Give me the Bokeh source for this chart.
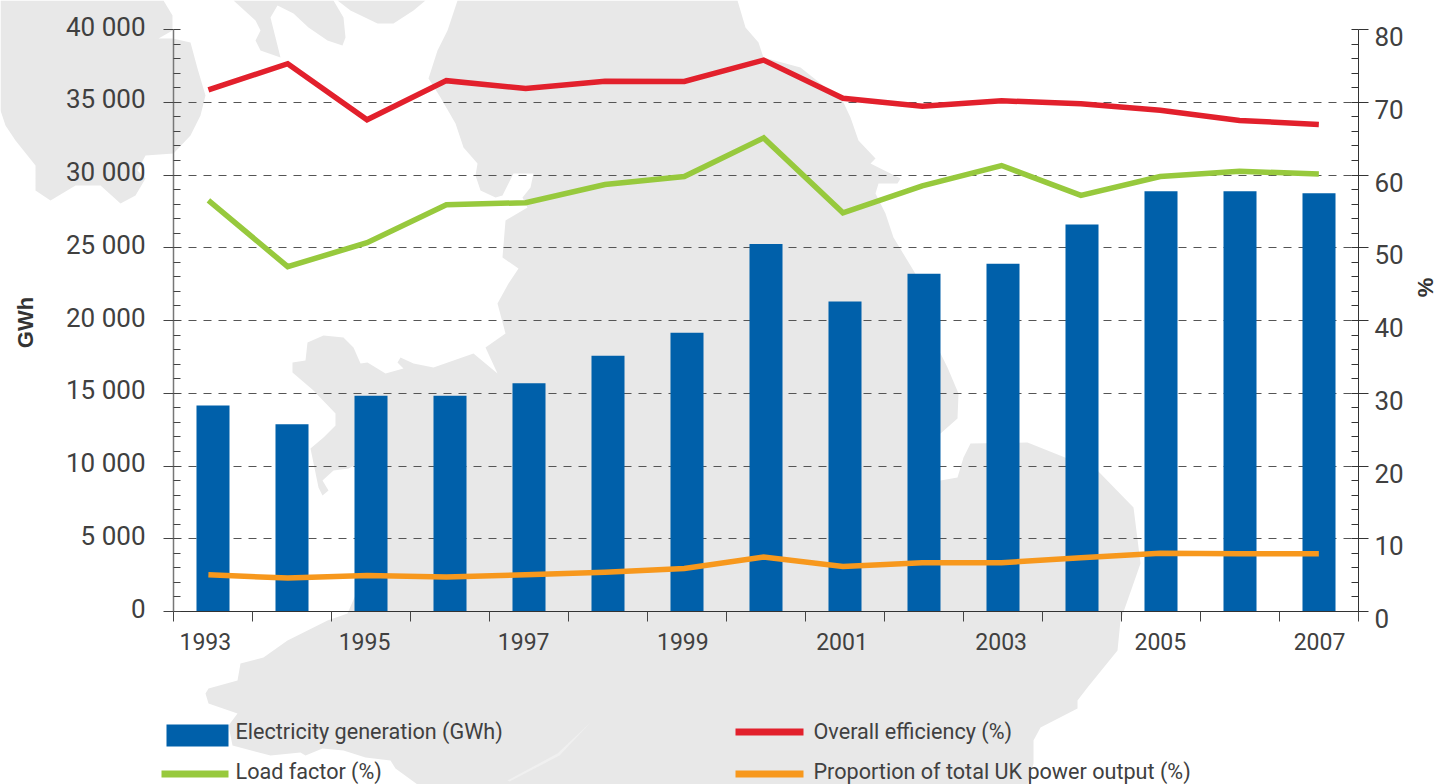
from bokeh.plotting import figure
from bokeh.layouts import column
from bokeh.core.properties import value
from bokeh.models import Range1d, LinearAxis, FixedTicker, ColumnDataSource
from bokeh.embed import file_html
from bokeh.resources import INLINE
import math

years = list(range(1993, 2008))
generation = [14150, 12870, 14830, 14830, 15690, 17580, 19160, 25250, 21300, 23220, 23900, 26590, 28880, 28880, 28740]
efficiency = [71.7, 75.3, 67.6, 72.97, 71.9, 72.9, 72.85, 75.8, 70.55, 69.45, 70.2, 69.8, 68.9, 67.5, 66.95]
load_factor = [56.5, 47.4, 50.7, 55.9, 56.2, 58.7, 59.8, 65.1, 54.8, 58.5, 61.3, 57.2, 59.8, 60.5, 60.15]
uk_share = [5.05, 4.6, 4.95, 4.75, 5.05, 5.4, 5.9, 7.5, 6.2, 6.7, 6.7, 7.4, 8.0, 7.95, 7.95]

left_ticks = [0, 5000, 10000, 15000, 20000, 25000, 30000, 35000, 40000]
left_labels = ["0", "5 000", "10 000", "15 000", "20 000", "25 000", "30 000", "35 000", "40 000"]
right_ticks = [0, 10, 20, 30, 40, 50, 60, 70, 80]
year_ticks = [1993, 1995, 1997, 1999, 2001, 2003, 2005, 2007]

FONT = "Roboto"
TEXT = "#404040"
BLUE, RED, GREEN, ORANGE = "#0060aa", "#e2202c", "#97c93d", "#f7981d"
LAND = "#e8e8e8"

# Background map outline, page pixels
map_ireland = [(0,0),(163,0),(172,15),(172,30),(158,38),(172,38),(190,42),(197,68),(205,95),(200,115),(190,135),
               (173,153),(145,155),(137,170),(145,178),(135,195),(120,203),(100,185),(75,185),(50,200),(35,190),
               (35,165),(15,140),(5,125),(0,110)]
map_galloway = [(233,0),(255,20),(260,30),(255,40),(260,50),(280,57),(275,37),(270,17),(277,5),(293,13),(308,27),
                (327,40),(342,45),(345,37),(343,17),(333,0)]
map_scotland = [(337,0),(350,10),(377,23),(393,23),(413,10),(425,0)]
map_main = [(457,0),(447,30),(437,50),(428,78),(440,97),(455,123),(463,147),(477,163),(475,175),(480,190),(495,197),
            (502,195),(513,173),(533,173),(530,187),(522,197),(527,207),(505,220),(502,257),(518,268),(508,283),
            (497,303),(505,333),(485,347),(497,373),(473,353),(433,367),(413,363),(400,357),(397,362),(403,368),
            (385,373),(367,362),(360,363),(353,347),(343,337),(323,335),(307,342),(305,360),(292,362),(292,372),
            (313,390),(335,413),(335,425),(323,437),(310,448),(318,487),(322,495),(328,490),(322,480),(333,470),
            (348,468),(360,462),(370,560),(347,613),(327,620),(287,640),(263,657),(240,663),(237,680),(208,688),
            (205,693),(208,703),(237,713),(228,725),(232,745),(270,755),(300,752),(305,755),(322,748),(343,750),
            (365,757),(390,760),(395,768),(417,784),(1027,784),(1033,763),(1033,740),(1040,727),(1077,708),
            (1077,700),(1087,687),(1117,650),(1120,620),(1140,563),(1133,507),(1097,470),(1027,442),(970,443),
            (963,457),(957,477),(940,480),(930,480),(930,440),(940,433),(957,418),(958,393),(947,367),(930,333),
            (917,277),(913,270),(893,237),(885,213),(875,193),(878,183),(897,183),(900,178),(870,163),(875,158),
            (858,140),(850,117),(842,100),(820,83),(800,67),(763,57),(758,42),(745,27),(737,0)]
map_estuary = [(590,722),(557,753),(507,780),(509,781),(559,755)]

W, H = 1437, 784
FRAME_TOP, FRAME_BOTTOM = 29, 611
SPAN = FRAME_BOTTOM - FRAME_TOP

# ---- back layer: whole page as its frame -------------------------------------
bg = figure(width=W, height=H, output_backend="svg", toolbar_location=None,
            x_range=Range1d(0, W), y_range=Range1d(H, 0), frame_align=False,
            min_border=0, min_border_left=0, min_border_right=0, min_border_top=0, min_border_bottom=0,
            background_fill_color="white", border_fill_color="white", outline_line_color=None)
bg.xaxis.visible = False
bg.yaxis.visible = False
bg.grid.visible = False
for poly, col in [(map_ireland, LAND), (map_galloway, LAND), (map_scotland, LAND), (map_main, LAND), (map_estuary, "#f0f0f0")]:
    bg.patch([a for a, b in poly], [b for a, b in poly], fill_color=col, line_color=None)

bg.text(x=[1374] * len(right_ticks), y=[FRAME_BOTTOM - t / 80 * SPAN + 7 for t in right_ticks],
        text=[str(t) for t in right_ticks], text_align="left", text_baseline="middle",
        text_font=value(FONT), text_font_size="26px", text_color=TEXT)
bg.text(x=[145] * len(left_ticks), y=[FRAME_BOTTOM - t / 40000 * SPAN - 3 for t in left_ticks],
        text=left_labels, text_align="right", text_baseline="middle",
        text_font=value(FONT), text_font_size="26px", text_color=TEXT)
bg.text(x=[1425], y=[287], text=["%"], angle=math.pi / 2, text_align="center", text_baseline="middle",
        text_font=value("Liberation Sans"), text_font_style="bold", text_font_size="22px", text_color="#333333")
bg.text(x=[25], y=[322], text=["GWh"], angle=math.pi / 2, text_align="center", text_baseline="middle",
        text_font=value("Liberation Sans"), text_font_style="bold", text_font_size="22px", text_color="#333333")

legend_rows = [("Electricity generation (GWh)", BLUE, 166, 228, 724, 746, 235, 731),
               ("Load factor (%)", GREEN, 161, 228, 770, 777, 235, 771),
               ("Overall efficiency (%)", RED, 735, 803, 728, 735, 813, 731),
               ("Proportion of total UK power output (%)", ORANGE, 735, 803, 770, 777, 813, 771)]
for txt, c, x0, x1, y0, y1, tx, ty in legend_rows:
    bg.quad(left=[x0], right=[x1], top=[y0], bottom=[y1], fill_color=c, line_color=None)
    bg.text(x=[tx], y=[ty], text=[txt], text_align="left", text_baseline="middle",
            text_font=value(FONT), text_font_size="21.6px", text_color=TEXT)

# ---- front layer: the chart --------------------------------------------------
p = figure(width=W, height=H, output_backend="svg", toolbar_location=None,
           x_range=Range1d(1992.5, 2007.5), y_range=Range1d(0, 40000), frame_align=False,
           min_border_left=173, min_border_right=79, min_border_top=FRAME_TOP, min_border_bottom=H - FRAME_BOTTOM,
           background_fill_color=None, border_fill_color=None, outline_line_color=None,
           margin=(-H, 0, 0, 0))
p.xaxis.visible = False
p.yaxis.visible = False
p.xgrid.visible = False
p.extra_y_ranges = {"pct": Range1d(0, 80)}
p.extra_x_ranges = {"labels": Range1d(1992.6, 2007.49), "lines": Range1d(1992.56, 2007.5)}

p.ygrid.grid_line_color = "#555555"
p.ygrid.grid_line_dash = "8 7"
p.ygrid.grid_line_width = 1
p.ygrid.ticker = FixedTicker(ticks=left_ticks)

src = ColumnDataSource(dict(year=years, generation=generation, efficiency=efficiency, load_factor=load_factor, uk_share=uk_share))
p.vbar(x="year", top="generation", width=0.418, bottom=0, source=src, fill_color=BLUE, line_color=None)
for col, c in [("efficiency", RED), ("load_factor", GREEN), ("uk_share", ORANGE)]:
    p.line(x="year", y=col, source=src, x_range_name="lines", y_range_name="pct", line_color=c, line_width=5.5, line_join="miter")

left = LinearAxis(ticker=FixedTicker(ticks=left_ticks, minor_ticks=list(range(0, 40001, 1000))),
                  major_label_overrides={t: "" for t in left_ticks},
                  major_tick_out=10, major_tick_in=0, minor_tick_in=7, minor_tick_out=0,
                  major_tick_line_color="#444444", minor_tick_line_color="#444444", axis_line_color="#777777", axis_line_width=1.5,
                  major_label_standoff=0)
p.add_layout(left, "left")

right = LinearAxis(y_range_name="pct", ticker=FixedTicker(ticks=right_ticks, minor_ticks=list(range(0, 81, 2))),
                   major_label_overrides={t: "" for t in right_ticks},
                   major_tick_out=10, major_tick_in=0, minor_tick_in=7, minor_tick_out=0,
                   major_tick_line_color="#333333", minor_tick_line_color="#333333", axis_line_color="#333333",
                   major_label_standoff=0)
p.add_layout(right, "right")

edges = [y - 0.5 for y in years] + [2007.5]
bottom = LinearAxis(ticker=FixedTicker(ticks=edges), major_tick_out=10, major_tick_in=0,
                    major_label_overrides={t: "" for t in edges},
                    major_tick_line_color="#444444", axis_line_color="#333333",
                    major_label_standoff=0)
p.add_layout(bottom, "below")
bottom2 = LinearAxis(x_range_name="labels", ticker=FixedTicker(ticks=year_ticks),
                     major_label_overrides={t: str(t) for t in year_ticks},
                     major_tick_line_color=None, axis_line_color=None, major_tick_out=0, major_tick_in=0, minor_tick_out=0,
                     major_label_standoff=11, major_label_text_font=FONT, major_label_text_font_size="23px",
                     major_label_text_color=TEXT)
p.add_layout(bottom2, "below")

page = column(bg, p, spacing=0, margin=0)
open("out.html", "w").write(file_html(page, INLINE))
